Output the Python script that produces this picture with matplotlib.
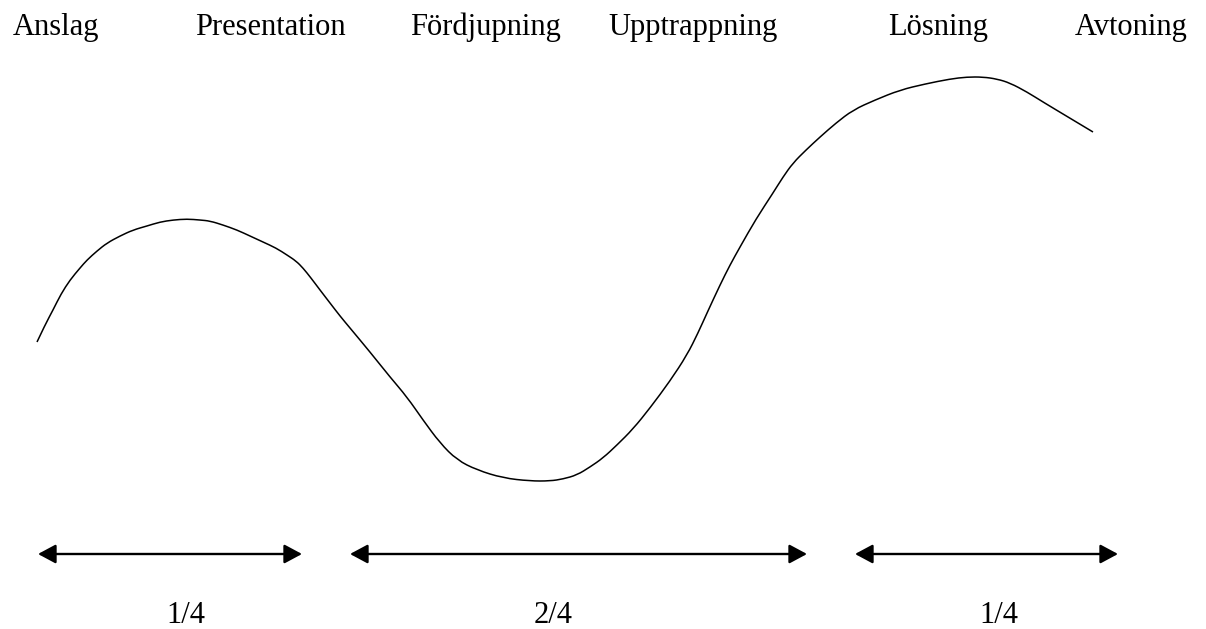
import matplotlib.pyplot as plt
from matplotlib.patches import FancyArrowPatch, PathPatch
from matplotlib.path import Path

# Fasernas namn (överst)
phases = ['Anslag', 'Presentation', 'Fördjupning', 'Upptrappning', 'Lösning', 'Avtoning']
phase_x = [13, 195, 410, 608, 888, 1075]

# Spänningskurvan (pixelkoordinater, y nedåt)
curve_x = [37, 45, 53, 61, 70, 80, 87, 97, 107, 120, 133, 147, 160, 173, 187, 200,
           210, 223, 237, 250, 263, 276, 287, 296, 303, 311, 320, 330, 340, 350,
           370, 390, 407, 423, 440, 457, 477, 503, 530, 550, 563, 577, 590, 603,
           617, 633, 650, 670, 687, 698, 707, 720, 730, 740, 756, 773, 783, 793,
           806, 820, 836, 853, 875, 900, 925, 950, 967, 983, 997, 1010, 1027, 1043,
           1068, 1093]
curve_y = [342, 325, 310, 294, 280, 268, 260, 251, 243, 236, 230, 226, 222, 220, 219, 220,
           221, 225, 230, 236, 242, 248, 255, 261, 268, 278, 290, 303, 316, 328,
           352, 377, 397, 420, 443, 460, 470, 478, 481, 481, 479, 475, 467, 458,
           445, 429, 408, 381, 355, 333, 313, 285, 265, 247, 219, 193, 177, 163,
           150, 137, 123, 110, 100, 90, 84, 79, 77, 77, 79, 83, 92, 102,
           117, 132]

# Pilar och andelar (nederst)
spans = [(38, 302), (350, 807), (855, 1118)]
fractions = ['1/4', '2/4', '1/4']
fraction_x = [186, 553, 999]

plt.rcParams['font.family'] = ['Liberation Serif', 'DejaVu Serif']

fig = plt.figure(figsize=(12.06, 6.29), dpi=100)
ax = fig.add_axes([0, 0, 1, 1])
ax.set_xlim(0, 1206)
ax.set_ylim(629, 0)
ax.axis('off')

for name, x in zip(phases, phase_x):
    ax.text(x, 35, name, fontsize=22, ha='left', va='baseline', color='black')

# mjuk kurva: kvadratiska bezier-segment genom mittpunkterna
pts = list(zip(curve_x, curve_y))
verts = [pts[0]]
codes = [Path.MOVETO]
for i in range(1, len(pts) - 1):
    mid = ((pts[i][0] + pts[i + 1][0]) / 2, (pts[i][1] + pts[i + 1][1]) / 2)
    verts += [pts[i], mid]
    codes += [Path.CURVE3, Path.CURVE3]
verts.append(pts[-1])
codes.append(Path.LINETO)
ax.add_patch(PathPatch(Path(verts, codes), facecolor='none', edgecolor='black',
                       lw=1.1, joinstyle='round'))

for (x0, x1), frac, fx in zip(spans, fractions, fraction_x):
    arrow = FancyArrowPatch((x0, 554), (x1, 554),
                            arrowstyle='<|-|>,head_length=10.8,head_width=5.8',
                            mutation_scale=1, lw=1.7, color='black',
                            shrinkA=0, shrinkB=0)
    ax.add_patch(arrow)
    ax.text(fx, 623, frac, fontsize=22, ha='center', va='baseline', color='black')

fig.savefig('out.png', dpi=100, facecolor='white')
